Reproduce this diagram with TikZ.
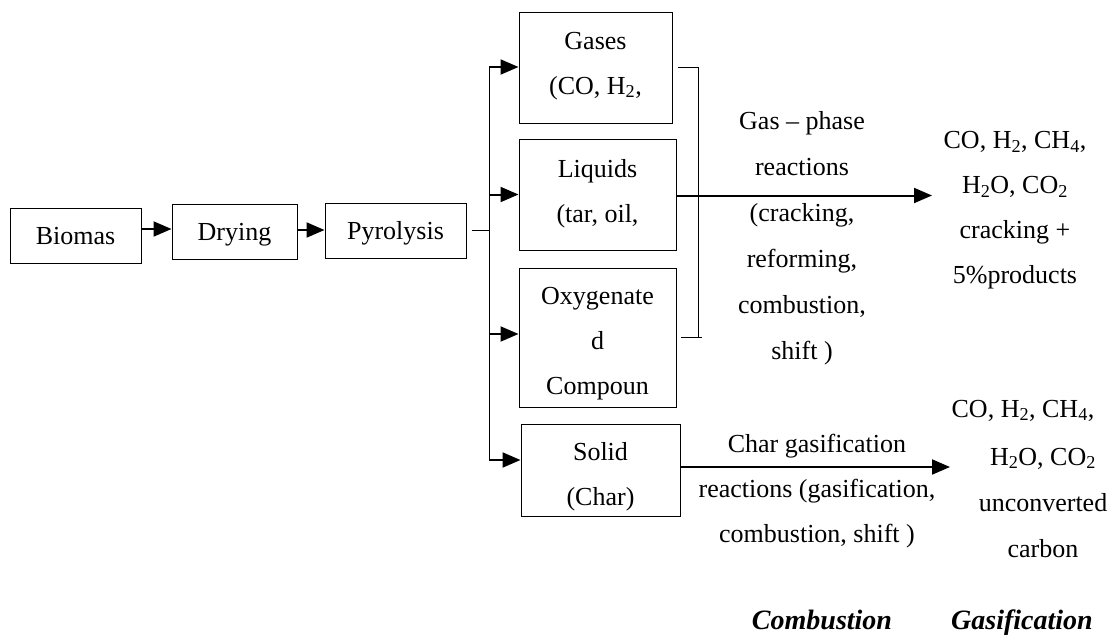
\documentclass[tikz,border=0pt]{standalone}
\usepackage{fontspec}
\setmainfont{Liberation Serif}
\usetikzlibrary{arrows.meta}
\tikzset{
  stage/.style={draw, line width=1pt, inner sep=0pt},
  txt/.style={align=center, inner sep=0pt, font=\fontsize{26}{45}\selectfont},
  wide/.style={align=center, inner sep=0pt, font=\fontsize{26}{46}\selectfont},
  tag/.style={inner sep=0pt, anchor=base, font=\fontsize{28}{45}\selectfont\bfseries\itshape},
  flow/.style={line width=2pt, -{Triangle[length=18pt,width=15pt]}},
  bus/.style={line width=1pt}
}
\begin{document}
\begin{tikzpicture}[x=1pt,y=-1pt]
\useasboundingbox (0,0) rectangle (1117,635);

% main chain
\node[stage, minimum width=131pt, minimum height=55pt] (biomas) at (75.5,235.5) {};
\node[txt] (biomasT) at (biomas) {\strut Biomas};
\node[stage, minimum width=125pt, minimum height=55pt] (drying) at (234.5,231.5) {};
\node[txt] (dryingT) at (drying) {\strut Drying};
\node[stage, minimum width=141pt, minimum height=55pt] (pyro) at (395.5,230.5) {};
\node[txt] (pyroT) at (pyro) {\strut Pyrolysis};
\draw[flow] (biomas.east |- 0,229) -- (drying.west |- 0,229);
\draw[flow] (drying.east |- 0,230) -- (pyro.west |- 0,230);

% pyrolysis products
\node[stage, minimum width=153pt, minimum height=111pt] (gases) at (595.5,67.5) {};
\node[txt] (gasesT) at (595.5,62.5) {\strut Gases\\\strut (CO, H\textsubscript{2},};
\node[stage, minimum width=157pt, minimum height=111pt] (liquids) at (597.5,194.5) {};
\node[txt] (liquidsT) at (597.5,191) {\strut Liquids\\\strut (tar, oil,};
\node[stage, minimum width=157pt, minimum height=139pt] (oxy) at (597.5,337.5) {};
\node[txt] (oxyT) at (597.5,340) {\strut Oxygenate\\\strut d\\\strut Compoun};
\node[stage, minimum width=159pt, minimum height=92pt] (solid) at (600.5,470) {};
\node[txt] (solidT) at (600.5,474) {\strut Solid\\\strut (Char)};

% distribution bus
\coordinate (bustop) at (489,67);
\coordinate (busbot) at (489,460);
\draw[bus] ([xshift=5pt]pyro.east) -- (pyro.east -| bustop);
\draw[bus] (bustop) -- (busbot);
\draw[flow] (bustop) -- (bustop -| gases.west);
\draw[flow] (bustop |- liquids.west) -- (liquids.west);
\draw[flow] (489,334) -- (oxy.west |- 0,334);
\draw[flow] (busbot) -- (busbot -| solid.west);

% bracket collecting the volatile products
\coordinate (brtop) at (698,67);
\coordinate (brbot) at (698,337);
\draw[bus] ([xshift=5pt]gases.east |- brtop) -- (brtop) -- (brbot);
\draw[bus] (681,337) -- (702,337);

% gas-phase route
\coordinate (gasout) at (932,195.5);
\draw[flow] (liquids.east |- gasout) -- (gasout);
\node[wide] (gasrx) at (802,235) {\strut Gas -- phase\\\strut reactions\\\strut (cracking,\\\strut reforming,\\\strut combustion,\\\strut shift )};
\node[txt] (gasprod) at (1015,207) {\strut CO, H\textsubscript{2}, CH\textsubscript{4},\\\strut H\textsubscript{2}O, CO\textsubscript{2}\\\strut cracking +\\\strut 5\%products};

% char route
\coordinate (charout) at (950,467);
\draw[flow] (solid.east |- charout) -- (charout);
\node[txt] (charrx) at (817,488) {\strut Char gasification\\\strut reactions (gasification,\\\strut combustion, shift )};
\node[txt] (charprodA) at (1023,408) {\strut CO, H\textsubscript{2}, CH\textsubscript{4},};
\node[wide] (charprodB) at (1043,502) {\strut H\textsubscript{2}O, CO\textsubscript{2}\\\strut unconverted\\\strut carbon};

% stage labels
\node[tag] (lblcomb) at (822,629) {Combustion};
\node[tag] (lblgas) at (1022,629) {Gasification};
\end{tikzpicture}
\end{document}
